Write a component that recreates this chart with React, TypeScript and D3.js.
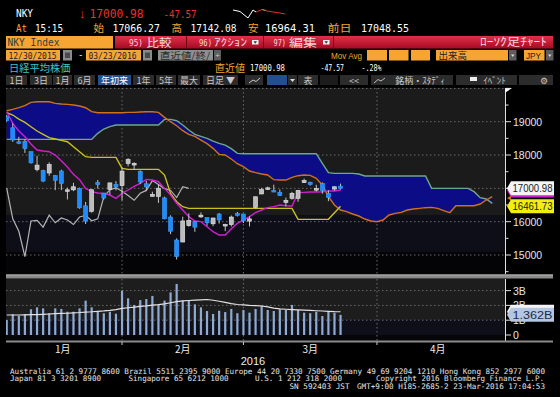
import { useEffect, useRef } from 'react'
import * as d3 from 'd3'

// sessions shown: 12/30/2015 .. 03/23/2016 (index 0 = Dec 30)
const SESSIONS = [
  '12/30', '1/4', '1/5', '1/6', '1/7', '1/8', '1/12', '1/13', '1/14', '1/15', '1/18', '1/19', '1/20', '1/21',
  '1/22', '1/25', '1/26', '1/27', '1/28', '1/29', '2/1', '2/2', '2/3', '2/4', '2/5', '2/8', '2/9', '2/10',
  '2/12', '2/15', '2/16', '2/17', '2/18', '2/19', '2/22', '2/23', '2/24', '2/25', '2/26', '2/29', '3/1', '3/2',
  '3/3', '3/4', '3/7', '3/8', '3/9', '3/10', '3/11', '3/14', '3/15', '3/16', '3/17', '3/18', '3/22', '3/23',
]

const OPEN = [
  19150, 18818, 18398, 18410, 18100, 17562, 17530, 17461, 17380, 17520, 16947, 16955, 17000, 16475,
  16310, 17170, 16860, 16968, 17118, 17083, 17746, 17699, 17510, 17138, 16760, 16757, 16714, 16140,
  15450, 15390, 15880, 16000, 16142, 16123, 15936, 16230, 15891, 15911, 16245, 16229, 16018, 16430,
  16831, 16990, 16934, 16880, 16575, 16699, 16698, 17170, 17182, 16960, 17150, 16853, 16978, 17066,
]
const HIGH = [
  19200, 18951, 18547, 18469, 18103, 17975, 17560, 17783, 17400, 17560, 17022, 17167, 17020, 16591,
  16969, 17250, 16860, 17164, 17216, 17638, 17905, 17784, 17540, 17228, 16900, 17107, 16751, 16193,
  15500, 16150, 16250, 16020, 16278, 16123, 16115, 16260, 15938, 16186, 16291, 16232, 16156, 16752,
  17018, 17050, 17109, 16966, 16721, 16894, 16938, 17291, 17203, 17106, 17180, 16941, 17049, 17142,
]
const LOW = [
  19000, 18394, 18327, 18064, 17742, 17510, 17185, 17377, 16945, 16947, 16665, 16916, 16388, 15930,
  16271, 16990, 16665, 16813, 16937, 16638, 17660, 17560, 17128, 16918, 16757, 16564, 16073, 15626,
  14865, 15380, 15850, 15696, 16116, 15875, 15865, 15943, 15715, 15855, 16153, 15960, 15857, 16396,
  16827, 16950, 16898, 16771, 16460, 16660, 16597, 17163, 17085, 16908, 16839, 16616, 16933, 16964,
]
const CLOSE = [
  19034, 18451, 18374, 18191, 17767, 17698, 17219, 17716, 17241, 17147, 16956, 17048, 16416, 16017,
  16959, 17111, 16709, 17164, 17041, 17518, 17865, 17751, 17191, 17044, 16819, 17004, 16085, 15713,
  14952, 16022, 16040, 15836, 16196, 15967, 16111, 16052, 15915, 16140, 16188, 16027, 16085, 16747,
  16960, 17015, 16911, 16783, 16642, 16852, 16938, 17233, 17117, 16990, 16936, 16724, 17048, 17000.98,
]

// ichimoku lines
const TENKAN = [
  19300, 18950, 18720, 18550, 18330, 18150, 18120, 18100, 18000, 17830, 17640, 17420, 17260, 17000,
  16900, 16860, 16850, 16800, 16700, 16850, 16950, 17060, 17150, 17270, 17250, 17200, 17000, 16800,
  16550, 16350, 16150, 16020, 16000, 15850, 15700, 15600, 15600, 15790, 15950, 16050, 16150, 16270,
  16350, 16420, 16450, 16500, 16480, 16470, 16870, 16880, 16890, 16890, 16900, 16920, 16920, 16950,
]
const KIJUN = [
  19270, 19200, 19080, 18980, 18850, 18720, 18620, 18520, 18480, 18440, 18400, 18250, 18100, 17950,
  17930, 17930, 17930, 17930, 17930, 17600, 17570, 17570, 17570, 17570, 17570, 17570, 17400, 16850,
  16600, 16450, 16400, 16400, 16400, 16400, 16400, 16400, 16400, 16400, 16400, 16400, 16400, 16400,
  16400, 16400, 16400, 16400, 16400, 16400, 16070, 16070, 16070, 16070, 16070, 16070, 16270, 16461.73,
]
const SPAN_A = [
  18470, 18470, 18470, 18470, 18470, 18470, 18470, 18470, 18470, 18470, 18470, 18470, 18470, 18470,
  18470, 18650, 18780, 18850, 18900, 18900, 18900, 18900, 18900, 18900, 18900, 18900, 19070, 19070,
  19030, 18900, 18750, 18620, 18560, 18500, 18420, 18350, 18300, 18190, 18050, 18040, 18040, 18040,
  18040, 18040, 18040, 18040, 18040, 18040, 18040, 18040, 18040, 18040, 17750, 17470, 17450, 17450,
  17450, 17450, 17430, 17370, 17370, 17370, 17370, 17370, 17370, 17370, 17370, 17370, 17370, 17370,
  17000, 17000, 17000, 17000, 17000, 17000, 17000, 16900, 16720, 16680, 16550,
]
const SPAN_B = [
  19330, 19370, 19420, 19480, 19580, 19600, 19600, 19600, 19550, 19530, 19520, 19500, 19470, 19420,
  19300, 19270, 19270, 19270, 19270, 19270, 19280, 19280, 19290, 19300, 19300, 19280, 19130, 19000,
  18880, 18730, 18620, 18560, 18450, 18340, 18200, 18020, 18000, 17880, 17740, 17650, 17520, 17470,
  17430, 17400, 17260, 17250, 17250, 17330, 17380, 17400, 17390, 17300, 17100, 16750, 16500, 16350,
  16300, 16230, 16170, 16080, 16020, 16000, 16050, 16200, 16250, 16280, 16350, 16380, 16400, 16420,
  16430, 16400, 16330, 16270, 16480, 16480, 16480, 16480, 16530, 16650, 16750,
]
const LAG = 25

// volume, billions of shares
const VOLUME = [
  1.01, 1.4, 1.3, 1.4, 1.74, 1.87, 1.8, 1.47, 1.8, 1.76, 1.57, 1.57, 1.8, 2.32,
  1.87, 1.6, 1.47, 1.57, 1.44, 3.0, 2.48, 2.03, 2.36, 2.43, 2.64, 2.03, 2.32, 2.88,
  3.45, 2.32, 2.32, 2.07, 1.87, 1.62, 1.42, 1.64, 1.55, 1.76, 1.47, 1.69, 1.51, 1.76,
  1.98, 1.69, 1.62, 1.74, 1.69, 2.03, 1.69, 1.51, 1.47, 1.57, 1.28, 1.57, 1.5, 1.362,
]
const VOLUME_AVG = [
  1.35, 1.35, 1.35, 1.36, 1.37, 1.38, 1.4, 1.42, 1.44, 1.46, 1.47, 1.5, 1.52, 1.55,
  1.57, 1.6, 1.63, 1.67, 1.72, 1.8, 1.84, 1.88, 1.93, 1.97, 2.02, 2.05, 2.1, 2.18,
  2.25, 2.3, 2.33, 2.36, 2.38, 2.4, 2.35, 2.28, 2.2, 2.12, 2.06, 2.03, 2.0, 1.98,
  1.96, 1.9, 1.82, 1.76, 1.74, 1.72, 1.7, 1.68, 1.66, 1.64, 1.62, 1.6, 1.58, 1.57,
]

const PRICE_TICKS = [15000, 16000, 17000, 18000, 19000]
const VOLUME_TICKS = [0, 1, 2, 3]
const MONTHS = ['1月', '2月', '3月', '4月']
const MONTH_EDGES = [-0.5, 19, 39, 61, 81]

const SANS = "'Liberation Sans', Arial, sans-serif"
const MONO = "'DejaVu Sans Mono', monospace"
const JP = "'Noto Sans CJK JP', sans-serif"
const ORANGE = '#f7a532'

export default function App() {
  const ref = useRef<SVGSVGElement>(null)

  useEffect(() => {
    if (!ref.current) return
    const svg = d3.select(ref.current)
    svg.selectAll('*').remove()

    const label = (x: number, y: number, s: string, o: any = {}) => {
      const t = svg.append('text')
        .attr('x', x).attr('y', y)
        .attr('font-family', o.font || SANS)
        .attr('font-size', o.size || 10)
        .attr('fill', o.fill || '#fff')
        .text(s)
      if (o.anchor) t.attr('text-anchor', o.anchor)
      if (o.len) t.attr('textLength', o.len).attr('lengthAdjust', 'spacingAndGlyphs')
      if (o.weight) t.attr('font-weight', o.weight)
      return t
    }
    const box = (x: number, y: number, w: number, h: number, fill: string) =>
      svg.append('rect').attr('x', x).attr('y', y).attr('width', w).attr('height', h).attr('fill', fill)

    svg.append('rect').attr('width', 560).attr('height', 397).attr('fill', '#000')

    const defs = svg.append('defs')
    const grad = defs.append('linearGradient').attr('id', 'redbar').attr('x1', 0).attr('x2', 0).attr('y1', 0).attr('y2', 1)
    grad.append('stop').attr('offset', 0).attr('stop-color', '#e0304a')
    grad.append('stop').attr('offset', 1).attr('stop-color', '#a50a22')
    defs.append('clipPath').attr('id', 'pclip').append('rect').attr('x', 6).attr('y', 88).attr('width', 499).attr('height', 186)
    defs.append('clipPath').attr('id', 'vclip').append('rect').attr('x', 6).attr('y', 279).attr('width', 499).attr('height', 62)

    // ---- header ----
    label(16, 17, 'NKY', { font: MONO, size: 11, len: 17 })
    label(79, 17.5, '↓', { size: 13, fill: '#e8322c' })
    label(89.5, 17.5, '17000.98', { font: MONO, size: 12, fill: '#e8322c', len: 54 })
    label(163.5, 17.5, '-47.57', { font: MONO, size: 11, fill: '#e8322c', len: 33 })
    svg.append('polyline').attr('points', '233,10 240,11.5 248,18 253,10 256,12')
      .attr('fill', 'none').attr('stroke', '#fff').attr('stroke-width', 1)
    svg.append('polyline').attr('points', '256,12 262,9.5 267,11 273,12 280,13 285,14')
      .attr('fill', 'none').attr('stroke', '#e0302a').attr('stroke-width', 1)
    svg.append('line').attr('x1', 262).attr('x2', 266).attr('y1', 9.5).attr('y2', 10.5).attr('stroke', '#40c040')

    const row2 = 31.5
    label(16, row2, 'At', { font: MONO, size: 10, fill: ORANGE, len: 11 })
    label(35, row2, '15:15', { font: MONO, size: 10, len: 28 })
    label(93.5, row2 + 0.5, '始', { font: JP, size: 10.5, fill: ORANGE })
    label(112.5, row2, '17066.27', { font: MONO, size: 10, len: 47.5 })
    label(171.5, row2 + 0.5, '高', { font: JP, size: 10.5, fill: ORANGE })
    label(190.5, row2, '17142.08', { font: MONO, size: 10, len: 46 })
    label(248, row2 + 0.5, '安', { font: JP, size: 10.5, fill: ORANGE })
    label(265, row2, '16964.31', { font: MONO, size: 10, len: 50 })
    label(327.5, row2 + 0.5, '前日', { font: JP, size: 10.5, fill: ORANGE, len: 24 })
    label(361, row2, '17048.55', { font: MONO, size: 10, len: 48 })

    // row 3: security box and red button bar
    box(6, 36, 107, 12.5, ORANGE)
    label(7.5, 46, 'NKY Index', { font: MONO, size: 11, fill: '#3a3a3a', len: 52 })
    svg.append('rect').attr('x', 115).attr('y', 36).attr('width', 438).attr('height', 12.5).attr('fill', 'url(#redbar)')
    ;[186, 263, 333].forEach((d) => box(d, 36, 1, 12.5, '#6e0614'))
    const pink = '#f4d8de'
    label(129, 45.5, '95)', { font: MONO, size: 9, fill: pink, len: 14 })
    label(146.5, 46.5, '比較', { font: JP, size: 11, fill: pink, len: 25 })
    label(199, 45.5, '96)', { font: MONO, size: 9, fill: pink, len: 13 })
    label(214, 46, 'ｱｸｼｮﾝ', { font: JP, size: 10.5, fill: pink, len: 33 })
    label(273.5, 45.5, '97)', { font: MONO, size: 9, fill: pink, len: 12.5 })
    label(289, 46.5, '編集', { font: JP, size: 11, fill: pink, len: 28 })
    ;[252, 323].forEach((d) => {
      box(d, 40, 6.5, 4.5, '#f2f2f2')
      svg.append('path').attr('d', `M${d + 1.5},41.2 L${d + 5},41.2 L${d + 3.25},43.8 Z`).attr('fill', '#333')
    })
    label(480, 46.2, 'ﾛｰｿｸ足ﾁｬｰﾄ', { font: JP, size: 11, fill: pink, len: 67 })

    // row 4: dates and options
    const r4 = 50
    box(6, r4, 54, 10.5, ORANGE)
    label(8.5, r4 + 8.6, '12/30/2015', { font: MONO, size: 9, fill: '#222', len: 48 })
    ;[63, 143].forEach((d) => {
      box(d, r4, 9, 10.5, '#8a8a8a')
      box(d + 2, r4 + 2.5, 5, 5.5, '#4a4a4a')
    })
    label(78, r4 + 8, '-', { font: MONO, size: 9 })
    box(86, r4, 55, 10.5, ORANGE)
    label(88.5, r4 + 8.6, '03/23/2016', { font: MONO, size: 9, fill: '#222', len: 48 })
    box(158, r4, 55, 10.5, '#8e8e8e')
    label(160, r4 + 9, '直近値/終/', { font: JP, size: 9.5, fill: '#2a2a2a', len: 50 })
    box(214, r4, 7, 10.5, '#5c5c5c')
    label(217.5, r4 + 8, '+', { size: 8, fill: '#ccc', anchor: 'middle' })
    label(331, r4 + 8.5, 'Mov Avg', { size: 9.5, fill: ORANGE, len: 31 })
    box(367, r4, 20, 10.5, ORANGE)
    box(389, r4, 19.5, 10.5, ORANGE)
    box(411, r4, 19, 10.5, ORANGE)
    box(436, r4, 72, 10.5, ORANGE)
    label(438.5, r4 + 9, '出来高', { font: JP, size: 9.5, fill: '#222' })
    box(524, r4, 20.5, 10.5, ORANGE)
    label(526, r4 + 8.5, 'JPY', { size: 9, fill: '#222', len: 15 })
    ;[509, 546].forEach((d) => {
      box(d, r4, 7.5, 10.5, '#5c5c5c')
      svg.append('path').attr('d', `M${d + 2},${r4 + 4.5} L${d + 5.5},${r4 + 4.5} L${d + 3.75},${r4 + 7} Z`).attr('fill', '#ddd')
    })

    // row 5: name and last
    label(9, 71.5, '日経平均株価', { font: JP, size: 10, fill: '#3cc4c8', len: 61.5 })
    label(215, 71.5, '直近値', { font: JP, size: 10, fill: ORANGE, len: 30 })
    label(250, 70.5, '17000.98', { font: MONO, size: 8.5, len: 35 })
    label(320.5, 70.5, '-47.57', { font: MONO, size: 8.5, len: 23.5 })
    label(361.5, 70.5, '-.28%', { font: MONO, size: 8.5, len: 20 })

    // row 6: toolbar
    const tools: [number, number, string, string][] = [
      [6, 27, '1日', '#2c2c2c'], [30, 52, '3日', '#2c2c2c'], [53, 72, '1月', '#2c2c2c'],
      [74, 95, '6月', '#2c2c2c'], [98, 131, '年初来', '#22508e'], [133, 154, '1年', '#2c2c2c'],
      [156, 176, '5年', '#2c2c2c'], [178, 200, '最大', '#2c2c2c'], [203, 238, '日足 ▼', '#2c2c2c'],
      [245, 263, '', '#2c2c2c'], [267, 287, '', '#22508e'], [288, 297, '', '#2c2c2c'],
      [298, 318, '表', '#2c2c2c'], [320, 338, '', '#1c1c1c'], [340, 368, '<<', '#2c2c2c'],
      [371, 453, '銘柄・ｽﾀﾃﾞｨ', '#2c2c2c'], [456, 517, 'ｲﾍﾞﾝﾄ', '#2c2c2c'], [519, 553, '⚙', '#2c2c2c'],
    ]
    tools.forEach(([a, b, s, c]) => {
      box(a, 75, b - a, 10, c)
      if (s) label((a + b) / 2 + (a > 360 && a < 520 ? 8 : 0), 83.5, s, { font: JP, size: 9, fill: c === '#22508e' ? '#fff' : '#c8c8c8', anchor: 'middle' })
    })
    svg.append('polyline').attr('points', '249,83 253,80 256,81.5 260,78').attr('fill', 'none').attr('stroke', '#ccc')
    svg.append('path').attr('d', 'M290,79 L295,79 L292.5,82 Z').attr('fill', '#ddd')
    svg.append('path').attr('d', 'M374,83 L378,79.5 L381,81 L385,78').attr('fill', 'none').attr('stroke', '#bbb')
    svg.append('path').attr('d', 'M470,84 L470,77 L477,77 L477,81 L470,81').attr('fill', '#eee')

    // ---- scales ----
    const x = d3.scaleLinear().domain([0, 80]).range([6.7, 492.3])
    const y = d3.scaleLinear().domain([15000, 19000]).range([255, 121.7])
    const yv = d3.scaleLinear().domain([0, 3]).range([335, 290.6])

    // ---- price panel ----
    box(6, 88, 499, 127, '#1b1b1b')
    box(6, 215, 499, 37, '#0e0e18')
    box(6, 252, 499, 22, '#040406')

    const dots = '1.5,2.5'
    PRICE_TICKS.concat([20000]).forEach((t) => {
      svg.append('line').attr('x1', 6).attr('x2', 505).attr('y1', y(t)).attr('y2', y(t))
        .attr('stroke', '#6a6a6a').attr('stroke-dasharray', dots)
    })
    MONTH_EDGES.slice(1, 4).forEach((m) => {
      svg.append('line').attr('x1', x(m)).attr('x2', x(m)).attr('y1', 88).attr('y2', 341)
        .attr('stroke', '#6a6a6a').attr('stroke-dasharray', dots)
    })

    const p = svg.append('g').attr('clip-path', 'url(#pclip)')
    const idx = SPAN_A.map((_, i) => i)
    p.append('path')
      .attr('d', d3.area<number>().x((i) => x(i)).y0((i) => y(SPAN_A[i])).y1((i) => y(SPAN_B[i]))(idx))
      .attr('fill', '#0c0c86')
    const line = d3.line<number>().x((_, i) => x(i)).y((d) => y(d))
    const stroke = (data: number[], color: string, w = 1.4) =>
      p.append('path').attr('d', line(data)).attr('fill', 'none').attr('stroke', color).attr('stroke-width', w)
    stroke(SPAN_A, '#6fa888')
    stroke(SPAN_B, '#d0701c')
    stroke(CLOSE.slice(LAG), '#b4b4b4', 1.2)
    stroke(KIJUN, '#cbc21e')
    stroke(TENKAN, '#d21ed2')

    SESSIONS.forEach((_, i) => {
      const up = CLOSE[i] >= OPEN[i]
      const cx = x(i)
      p.append('line').attr('x1', cx).attr('x2', cx).attr('y1', y(HIGH[i])).attr('y2', y(LOW[i]))
        .attr('stroke', '#c4c4c4').attr('stroke-width', 1)
      const top = y(Math.max(OPEN[i], CLOSE[i]))
      const h = Math.max(1.5, y(Math.min(OPEN[i], CLOSE[i])) - top)
      p.append('rect').attr('x', cx - 2).attr('y', top).attr('width', 4).attr('height', h)
        .attr('fill', up ? '#bcbcbc' : '#1e8cff')
        .attr('stroke', up ? '#e8e8e8' : '#3aa0ff').attr('stroke-width', 0.6)
    })

    const lastClose = CLOSE[CLOSE.length - 1]

    // price axis
    svg.append('line').attr('x1', 505.5).attr('x2', 505.5).attr('y1', 88).attr('y2', 274).attr('stroke', '#e0e0e0')
    svg.append('path').attr('d', 'M505.5,88 L512,88 L505.5,92.5 Z').attr('fill', '#fff')
    d3.range(14500, 20001, 500).forEach((t) => {
      const major = t % 1000 === 0
      svg.append('line').attr('x1', 505.5).attr('x2', major ? 511 : 508.5).attr('y1', y(t)).attr('y2', y(t))
        .attr('stroke', '#e0e0e0')
    })
    // the tick label under the last-price tag is covered in the original
    PRICE_TICKS.filter((t) => Math.abs(y(t) - y(lastClose)) > 8)
      .forEach((t) => label(513, y(t) + 4, String(t), { size: 10.5, fill: '#e6e6e6' }))

    const tag = (cy: number, fill: string, s: string, tcolor: string, h = 14) => {
      svg.append('path')
        .attr('d', `M507,${cy} L511,${cy - h / 2} L554,${cy - h / 2} L554,${cy + h / 2} L511,${cy + h / 2} Z`)
        .attr('fill', fill)
      if (s) label(532.5, cy + 4, s, { size: 10.5, fill: tcolor, anchor: 'middle', len: 40 })
    }
    tag(y(TENKAN[TENKAN.length - 1]) + 0.5, '#d21ed2', '', '')
    svg.append('path').attr('d', 'M507,198 L511,195.5 L511,200.5 Z').attr('fill', '#d0701c')
    tag(y(lastClose), '#f4f4f4', '17000.98', '#1a1a1a')
    tag(y(KIJUN[KIJUN.length - 1]), '#f2ee10', '16461.73', '#1a1a1a')

    // separator
    box(6, 274.5, 547, 4, '#8a8a8a')
    box(6, 274.5, 547, 1, '#b4b4b4')

    // ---- volume panel ----
    box(6, 279, 499, 41, '#1d1d1d')
    box(6, 320, 499, 15, '#0f0f19')
    box(6, 335, 499, 6, '#060608')
    VOLUME_TICKS.slice(1).forEach((t) => {
      svg.append('line').attr('x1', 6).attr('x2', 505).attr('y1', yv(t)).attr('y2', yv(t))
        .attr('stroke', '#6a6a6a').attr('stroke-dasharray', dots)
    })
    MONTH_EDGES.slice(1, 4).forEach((m) => {
      svg.append('line').attr('x1', x(m)).attr('x2', x(m)).attr('y1', 279).attr('y2', 341)
        .attr('stroke', '#6a6a6a').attr('stroke-dasharray', dots)
    })
    const v = svg.append('g').attr('clip-path', 'url(#vclip)')
    VOLUME.forEach((d, i) => {
      v.append('rect').attr('x', x(i) - 1.1).attr('y', yv(d)).attr('width', 2.2).attr('height', yv(0) - yv(d))
        .attr('fill', '#8eaad2')
    })
    v.append('path')
      .attr('d', d3.line<number>().x((_, i) => x(i)).y((d) => yv(d))(VOLUME_AVG))
      .attr('fill', 'none').attr('stroke', '#e4e0e4').attr('stroke-width', 1.2)

    svg.append('line').attr('x1', 505.5).attr('x2', 505.5).attr('y1', 279).attr('y2', 341).attr('stroke', '#e0e0e0')
    VOLUME_TICKS.forEach((t) => {
      svg.append('line').attr('x1', 505.5).attr('x2', 511).attr('y1', yv(t)).attr('y2', yv(t)).attr('stroke', '#e0e0e0')
      label(513, yv(t) + 4, t === 0 ? '0' : `${t}B`, { size: 10.5, fill: '#e6e6e6' })
    })
    tag(yv(VOLUME_AVG[VOLUME_AVG.length - 1]), '#f4f4f4', '', '')
    tag(yv(VOLUME[VOLUME.length - 1]), '#b4c6e0', '1.362B', '#1c2c4c')

    box(6, 340.5, 547, 2, '#8a8a8a')

    // x axis
    MONTH_EDGES.slice(1, 4).forEach((m) => {
      svg.append('line').attr('x1', x(m)).attr('x2', x(m)).attr('y1', 342).attr('y2', 345).attr('stroke', '#ccc')
    })
    MONTHS.forEach((mo, k) => {
      const mid = (MONTH_EDGES[k] + MONTH_EDGES[k + 1]) / 2
      label(x(mid), 353, mo, { font: JP, size: 10, fill: '#eee', anchor: 'middle' })
    })
    label(253, 365, '2016', { size: 11, fill: '#eee', anchor: 'middle' })

    // footer
    const f = { font: MONO, size: 7.6, fill: '#e6e6e6' }
    label(10, 373.5, 'Australia 61 2 9777 8600 Brazil 5511 2395 9000 Europe 44 20 7330 7500 Germany 49 69 9204 1210 Hong Kong 852 2977 6000', { ...f, len: 535 })
    label(10, 381, 'Japan 81 3 3201 8900', { ...f, len: 91 })
    label(128.5, 381, 'Singapore 65 6212 1000', { ...f, len: 100 })
    label(255, 381, 'U.S. 1 212 318 2000', { ...f, len: 87 })
    label(376, 381, 'Copyright 2016 Bloomberg Finance L.P.', { ...f, len: 168 })
    label(289.5, 389, 'SN 592403 JST', { ...f, len: 60 })
    label(357, 389, 'GMT+9:00 H185-2685-2 23-Mar-2016 17:04:53', { ...f, len: 188 })
  }, [])

  return (
    <svg ref={ref} width={560} height={397} style={{ position: 'absolute', left: 0, top: 0 }} />
  )
}
